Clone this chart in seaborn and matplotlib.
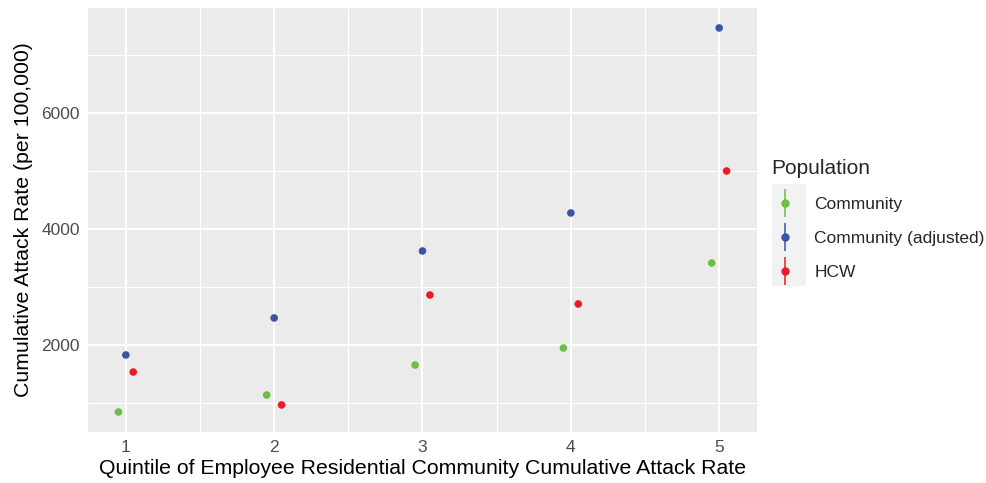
import pandas as pd
import matplotlib.pyplot as plt
import seaborn as sns
from matplotlib.lines import Line2D
from matplotlib.patches import Rectangle
from matplotlib.legend_handler import HandlerTuple
from matplotlib.ticker import MultipleLocator

quintiles = [1, 2, 3, 4, 5]
community = [845, 1138, 1655, 1948, 3414]
community_adj = [1828, 2466, 3621, 4276, 7466]
hcw = [1534, 966, 2862, 2707, 5000]

populations = ['Community', 'Community (adjusted)', 'HCW']
colors = {'Community': '#6BBE45', 'Community (adjusted)': '#3A54A4', 'HCW': '#EC1C24'}
dodge = {'Community': -0.05, 'Community (adjusted)': 0.0, 'HCW': 0.05}

rows = []
for pop, vals in zip(populations, [community, community_adj, hcw]):
    for q, v in zip(quintiles, vals):
        rows.append({'Quintile': q, 'Rate': v, 'Population': pop})
df = pd.DataFrame(rows)
df['x'] = df['Quintile'] + df['Population'].map(dodge)

sns.set_style('darkgrid')
plt.rcParams['font.family'] = ['Liberation Sans', 'DejaVu Sans']

fig = plt.figure(figsize=(9.87, 4.83), dpi=100)
ax = fig.add_axes([88 / 987, 1 - 432 / 483, (757 - 88) / 987, (432 - 8) / 483])
ax.set_facecolor('#EBEBEB')

sns.scatterplot(data=df, x='x', y='Rate', hue='Population', palette=colors,
                s=30, linewidth=0, ax=ax, legend=False, zorder=3)

ax.set_xlim(0.745, 5.255)
ax.set_ylim(500, 7810)
ax.set_xticks(quintiles)
ax.set_xticklabels([str(q) for q in quintiles])
ax.set_yticks([2000, 4000, 6000])
ax.xaxis.set_minor_locator(MultipleLocator(0.5))
ax.yaxis.set_minor_locator(MultipleLocator(1000))
ax.grid(which='major', color='white', linewidth=1.5)
ax.grid(which='minor', color='white', linewidth=0.8)
ax.set_axisbelow(True)
for s in ax.spines.values():
    s.set_visible(False)
ax.tick_params(which='major', length=4, width=0.9, color='#333333',
               labelcolor='#4D4D4D', labelsize=12.5, pad=2)
ax.tick_params(which='minor', length=0)

ax.set_xlabel('Quintile of Employee Residential Community Cumulative Attack Rate',
              fontsize=15.3, color='black', labelpad=3)
ax.set_ylabel('Cumulative Attack Rate (per 100,000)', fontsize=15.3, color='black', labelpad=6)

# legend with pointrange-style keys
fig.add_artist(Rectangle((772 / 987, 1 - 286 / 483), 34 / 987, 102 / 483,
                         transform=fig.transFigure, facecolor='#F2F2F2', edgecolor='none',
                         zorder=-1))
handles = []
for pop in populations:
    bar = Line2D([], [], color=colors[pop], marker='|', markersize=20, linestyle='none',
                 markeredgewidth=1.1)
    dot = Line2D([], [], color=colors[pop], marker='o', markersize=5, linestyle='none')
    handles.append((bar, dot))
leg = ax.legend(handles, populations, handler_map={tuple: HandlerTuple(ndivide=1)},
                title='Population', loc='upper left', bbox_to_anchor=(764 / 987, 1 - 152 / 483),
                bbox_transform=fig.transFigure, frameon=False, fontsize=12.5,
                title_fontsize=15, handlelength=1.6, handletextpad=0.9,
                labelspacing=1.08, borderaxespad=0)
leg._legend_box.align = 'left'

fig.savefig('out.png', dpi=100)
